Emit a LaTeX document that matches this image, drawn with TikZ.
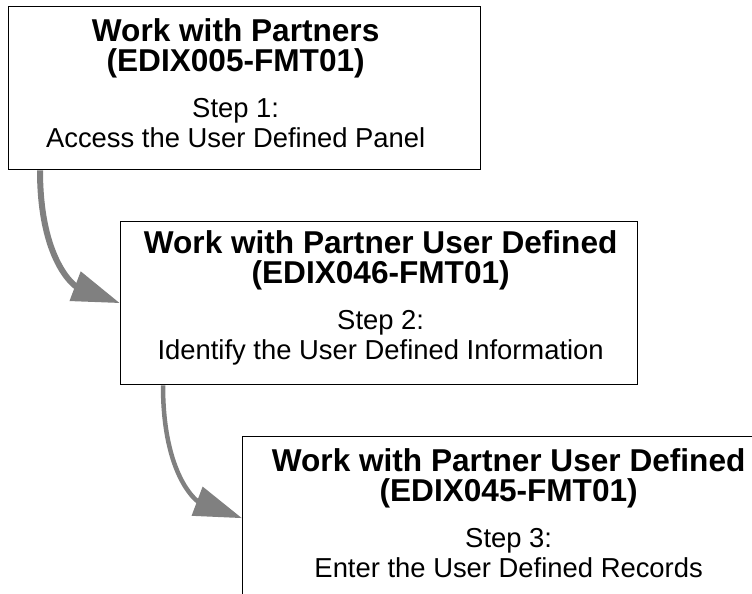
\documentclass[tikz,border=0pt]{standalone}
\usepackage{fontspec}
\setmainfont{Liberation Sans}
\usetikzlibrary{arrows.meta}
\newcommand\titlef{\bfseries\fontsize{31.6pt}{30pt}\selectfont}
\newcommand\bodyf{\mdseries\fontsize{27.4pt}{30pt}\selectfont}
\newcommand\stepboxtext[4]{\vbox{\baselineskip=30pt\lineskiplimit=-1000pt\lineskip=0pt
\halign{\hfil##\hfil\cr
\titlef #1\cr
\titlef #2\cr
\noalign{\vskip16pt}
\bodyf #3\cr
\bodyf #4\cr
\noalign{\kern9.6pt}}}}
\tikzset{
  stepbox/.style={draw=black, line width=1.3pt, rectangle, inner sep=0pt,
    anchor=north west, minimum width=#1, minimum height=163pt},
  flow/.style={draw=black!50, line width=6pt,
    -{Triangle[length=48pt,width=30pt]}},
}
\begin{document}
\begin{tikzpicture}[x=1pt,y=-1pt]
\useasboundingbox (0,0) rectangle (752,594);
\clip (0,0) rectangle (752,594);
\node[stepbox=472pt] (b1) at (8,6)
  {\stepboxtext{Work with Partners}{(EDIX005-FMT01)}{Step 1:}{Access the User Defined Panel}\kern18pt};
\node[stepbox=517pt] (b2) at (120,221)
  {\kern3pt\stepboxtext{Work with Partner User Defined}{(EDIX046-FMT01)}{Step 2:}{Identify the User Defined Information}};
\node[stepbox=532pt] (b3) at (242,436)
  {\stepboxtext{Work with Partner User Defined}{(EDIX045-FMT01)}{Step 3:}{Enter the User Defined Records}};
\draw[flow] ([xshift=32pt]b1.south west) .. controls +(0,91) and +(-45,-17) .. (b2.west);
\draw[flow, line width=4.5pt] ([xshift=43pt]b2.south west) .. controls +(0,91) and +(-45,-17) .. (b3.west);
\end{tikzpicture}
\end{document}
